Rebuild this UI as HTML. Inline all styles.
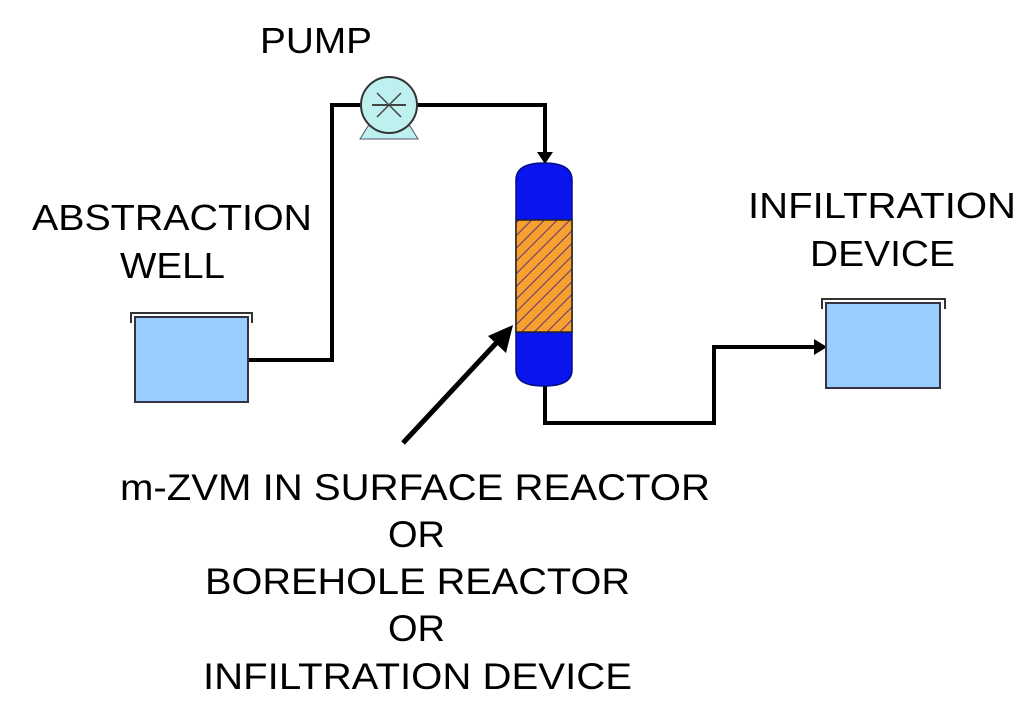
<!DOCTYPE html>
<html><head><meta charset="utf-8"><style>html,body{margin:0;padding:0;background:#fff;width:1024px;height:706px;overflow:hidden}</style></head>
<body>
<svg width="1024" height="706" viewBox="0 0 1024 706" xmlns="http://www.w3.org/2000/svg" font-family="Liberation Sans, Arial, sans-serif" fill="#000">
<defs>
<pattern id="h" patternUnits="userSpaceOnUse" width="9" height="9" patternTransform="rotate(45)">
<rect width="9" height="9" fill="#f7a030"/>
<line x1="0" y1="0" x2="0" y2="9" stroke="#6a3a70" stroke-width="2.2"/>
</pattern>
</defs>
<polyline points="248,360 332,360 332,105 362,105" fill="none" stroke="#000" stroke-width="4"/>
<polyline points="417,105 545,105 545,152" fill="none" stroke="#000" stroke-width="4"/>
<polygon points="537,152 553,152 545,164" fill="#000"/>
<polyline points="545,386 545,423 714,423 714,347 816,347" fill="none" stroke="#000" stroke-width="4"/>
<polygon points="814,339 827,347 814,355" fill="#000"/>
<polygon points="368,126 410,126 418,139 360,139" fill="#bff0f0" stroke="#556" stroke-width="1"/>
<circle cx="389" cy="105" r="28" fill="#bff0f0" stroke="#333" stroke-width="2"/>
<line x1="372" y1="105" x2="406" y2="105" stroke="#444" stroke-width="2"/>
<line x1="377" y1="93" x2="401" y2="117" stroke="#444" stroke-width="1.5"/>
<line x1="377" y1="117" x2="401" y2="93" stroke="#444" stroke-width="1.5"/>
<path d="M516,180 Q516,163 544,163 Q572,163 572,180 L572,370 Q572,386 544,386 Q516,386 516,370 Z" fill="#0a14ee" stroke="#001080" stroke-width="1.5"/>
<rect x="516" y="220" width="56" height="112" fill="url(#h)" stroke="#222" stroke-width="1.5"/>
<line x1="403" y1="443" x2="500" y2="339" stroke="#000" stroke-width="5"/>
<polygon points="513,325 506,353 488,336" fill="#000"/>
<rect x="135" y="317" width="113" height="85" fill="#99ccff" stroke="#334" stroke-width="2"/>
<polyline points="131,323 131,313 252,313 252,323" fill="none" stroke="#333" stroke-width="2"/>
<rect x="826" y="303" width="114" height="85" fill="#99ccff" stroke="#334" stroke-width="2"/>
<polyline points="822,309 822,299 945,299 945,309" fill="none" stroke="#333" stroke-width="2"/>
<g font-size="36">
<text x="260" y="53" textLength="112" lengthAdjust="spacingAndGlyphs">PUMP</text>
<text x="32" y="230" textLength="280" lengthAdjust="spacingAndGlyphs">ABSTRACTION</text>
<text x="120" y="278" textLength="105" lengthAdjust="spacingAndGlyphs">WELL</text>
<text x="748" y="218" textLength="268" lengthAdjust="spacingAndGlyphs">INFILTRATION</text>
<text x="810" y="266" textLength="145" lengthAdjust="spacingAndGlyphs">DEVICE</text>
</g>
<g font-size="37">
<text x="120" y="500" textLength="590" lengthAdjust="spacingAndGlyphs">m-ZVM IN SURFACE REACTOR</text>
<text x="388" y="547" textLength="57" lengthAdjust="spacingAndGlyphs">OR</text>
<text x="205" y="594" textLength="425" lengthAdjust="spacingAndGlyphs">BOREHOLE REACTOR</text>
<text x="388" y="641" textLength="57" lengthAdjust="spacingAndGlyphs">OR</text>
<text x="203" y="689" textLength="429" lengthAdjust="spacingAndGlyphs">INFILTRATION DEVICE</text>
</g>
</svg>
</body></html>
